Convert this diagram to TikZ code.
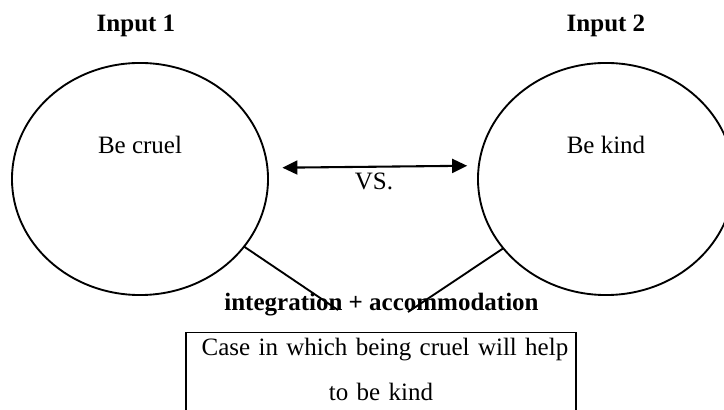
\documentclass[tikz,border=0pt]{standalone}
\usepackage{fontspec}
\setmainfont{Liberation Serif}
\usepackage{tikz}
\usetikzlibrary{positioning}
\usetikzlibrary{shapes.geometric, arrows.meta}
\tikzstyle{vsarrow} = [line width=1pt,{Triangle[length=7.2pt,width=6.7pt]}-{Triangle[length=7.2pt,width=6.7pt]}]
\tikzstyle{blob} = [draw, ellipse, line width=0.9pt, inner sep=0pt, outer sep=0pt, minimum width=122.9pt, minimum height=111.4pt]
\tikzstyle{txt} = [anchor=base, font=\fontsize{12}{14.4}\selectfont]
\tikzstyle{boldtxt} = [anchor=base, font=\fontsize{12}{14.4}\selectfont\bfseries]
\tikzstyle{link} = [line width=0.9pt]

\begin{document}
\begin{tikzpicture}[x=0.48pt,y=-0.48pt]
	\useasboundingbox (0,0) rectangle (724,410);

	% the two inputs
	\node[blob] (cruelEll) at (140,179) {};
	\node[blob] (kindEll) at (606,179) {};
	\node[boldtxt] (inputOne) at (136,32) {Input 1};
	\node[boldtxt] (inputTwo) at (606,32) {Input 2};
	\node[txt] (cruelText) at (140,154) {Be cruel};
	\node[txt] (kindText) at (606,154) {Be kind};

	%arrows
	\draw[vsarrow, shorten <=7.2pt, shorten >=5.6pt] (cruelEll.5.4) -- (kindEll.174.6);
	\node[txt] (vsText) at (374,190) {VS.};

	% the blend
	\node[boldtxt] (blendText) at (381.5,311) {integration + accommodation};
	\coordinate (blendL) at (338,310);
	\coordinate (blendR) at (408,312);
	\draw[link] (cruelEll.-33.6) -- (blendL);
	\draw[link] (kindEll.-146.4) -- (blendR);

	%textbox
	\node[draw, line width=0.65pt, anchor=north, minimum width=187.2pt, text width=180pt, align=center,
		inner xsep=0pt, inner ysep=2.8pt, text depth=40pt, font=\fontsize{12}{21.6}\selectfont]
		(caseBox) at (381,332) {\hspace*{3.8pt}Case in which being cruel will help\\to be kind\hspace*{7.7pt}};
\end{tikzpicture}
\end{document}
